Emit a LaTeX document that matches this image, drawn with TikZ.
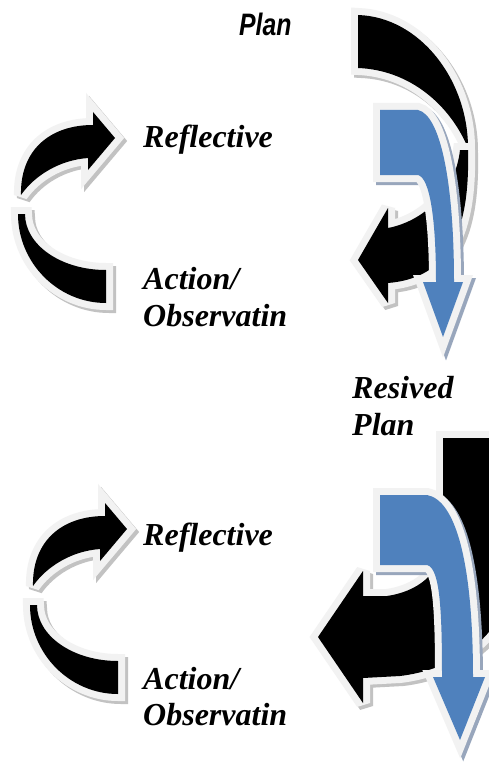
\documentclass[tikz,border=0pt]{standalone}
\usepackage{fontspec}
\setmainfont{Liberation Serif}
\newfontfamily\arialfont{Liberation Sans}
\definecolor{outl}{HTML}{F2F2F2}
\definecolor{shblack}{HTML}{C2C2C2}
\definecolor{shblue}{HTML}{98A6BC}
\definecolor{arrowblue}{HTML}{4F81BD}
\tikzset{
  lbl/.style={anchor=base west, inner sep=0pt, font=\bfseries\itshape\fontsize{32}{37}\selectfont},
  planlbl/.style={anchor=base west, inner sep=0pt, font=\arialfont\bfseries\itshape\fontsize{31}{31}\selectfont},
}
\newcommand\drawshape[3]{%
  \filldraw[#2, line width=14, line join=miter, miter limit=3, shift={(3,3)}] #3;
  \draw[outl, line width=14, line join=miter, miter limit=3] #3;
  \fill[#1] #3;}
% left circular arrow: lower (tail) piece and upper (head) piece
\newcommand\pathLlow{(18,214) .. controls (18,263) and (58,303) .. (106,303) -- (106,270) .. controls (61,270) and (25,245) .. (25,214) -- cycle}
\newcommand\pathLup{(93,125) .. controls (50,125) and (20,150) .. (21,195) .. controls (35,175) and (60,160) .. (88,158) -- (88,170) -- (115,138) -- (93,112) -- cycle}
% top right black arrow
\newcommand\pathRtop{(358,15) .. controls (420,17) and (468,80) .. (468,148) .. controls (450,105) and (410,70) .. (358,68) -- cycle}
\newcommand\pathRlow{(468,150) .. controls (470,230) and (450,278) .. (388,283) -- (388,303) -- (358,260) -- (388,208) -- (388,228) .. controls (420,222) and (455,195) .. (460,150) -- cycle}
% top right blue arrow
\newcommand\pathBlueA{(380,110) -- (418,110) .. controls (440,115) and (454,180) .. (454,282) -- (463,282) -- (443,337) -- (423,282) -- (436,282) .. controls (436,220) and (430,178) .. (418,175) -- (380,175) -- cycle}
% bottom right black arrow
\newcommand\pathRbig{(443,438) -- (510,438) -- (510,580) .. controls (505,640) and (450,670) .. (400,676) -- (363,678) -- (363,703) -- (318,637) -- (363,571) -- (363,596) -- (387,596) .. controls (415,592) and (443,575) .. (443,540) -- cycle}
% bottom right blue arrow
\newcommand\pathBlueB{(380,495) -- (427,495) .. controls (455,500) and (473,560) .. (473,677) -- (485,677) -- (460,740) -- (433,677) -- (442,677) .. controls (442,610) and (440,568) .. (427,565) -- (380,565) -- cycle}
\begin{document}
\begin{tikzpicture}[x=1pt, y=-1pt]
\useasboundingbox (0,0) rectangle (488,765);
\fill[white] (0,0) rectangle (488,765);
% top left cycle arrow
\drawshape{black}{shblack}{\pathLlow}
\drawshape{black}{shblack}{\pathLup}
% top right
\drawshape{black}{shblack}{\pathRtop}
\drawshape{black}{shblack}{\pathRlow}
\drawshape{arrowblue}{shblue}{\pathBlueA}
% bottom left cycle arrow
\begin{scope}[shift={(12,391)}]
\drawshape{black}{shblack}{\pathLlow}
\drawshape{black}{shblack}{\pathLup}
\end{scope}
% bottom right
\drawshape{black}{shblack}{\pathRbig}
\drawshape{arrowblue}{shblue}{\pathBlueB}
% labels
\node[planlbl] (plan) at (239,36) {\scalebox{0.8}[1]{Plan}};
\node[lbl] (refl1) at (143,147) {Reflective};
\node[lbl] (act1) at (143,289) {Action/};
\node[lbl] (obs1) at (143,326) {Observatin};
\node[lbl] (res) at (352,398) {Resived};
\node[lbl] (plan2) at (352,435) {Plan};
\node[lbl] (refl2) at (143,545) {Reflective};
\node[lbl] (act2) at (143,689) {Action/};
\node[lbl] (obs2) at (143,725) {Observatin};
\end{tikzpicture}
\end{document}
